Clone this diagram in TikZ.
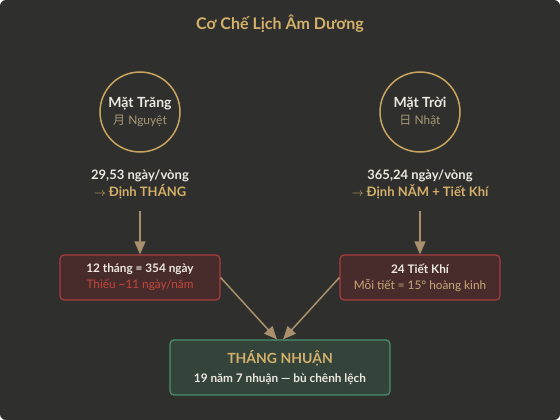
\documentclass[tikz,border=0pt]{standalone}
\usepackage{fontspec}
\setmainfont{Lato}
\newfontfamily\cjk{Noto Sans CJK SC}
\usetikzlibrary{arrows.meta}
\definecolor{bg}{HTML}{2F2F2D}
\definecolor{gold}{HTML}{D4B06A}
\definecolor{ring}{HTML}{C8A45E}
\definecolor{txt}{HTML}{ECE8E0}
\definecolor{muted}{HTML}{A89878}
\definecolor{tan}{HTML}{A8906C}
\definecolor{redfill}{HTML}{482C2C}
\definecolor{redline}{HTML}{A83C3C}
\definecolor{redtxt}{HTML}{C4463A}
\definecolor{sand}{HTML}{C8A878}
\definecolor{greenfill}{HTML}{34443A}
\definecolor{greenline}{HTML}{4C9070}
\begin{document}
\begin{tikzpicture}[x=1pt,y=-1pt,
    orb/.style={circle,draw=ring,line width=1.5pt,minimum size=80pt,inner sep=0pt,align=center,
      font=\fontsize{14}{18}\selectfont},
    info/.style={align=center,font=\fontsize{13}{17}\selectfont\bfseries},
    card/.style={rounded corners=4pt,line width=1.2pt,minimum width=160pt,minimum height=45pt,
      align=center,font=\fontsize{11.8}{16}\selectfont},
    arr/.style={draw=tan,line width=1.5pt,-{Triangle[width=11pt,length=13pt]}}]
    \fill[bg,rounded corners=6pt] (0,0) rectangle (560,420);
    \useasboundingbox (0,0) rectangle (560,420);
    \node[text=gold,font=\fontsize{16}{18}\selectfont\bfseries] (title) at (280,24) {Cơ Chế Lịch Âm Dương};
    % two bodies
    \node[orb] (moon) at (140,112) {\textcolor{txt}{\bfseries Mặt Trăng}\\[-1pt]
      \textcolor{muted}{\fontsize{12}{13}\selectfont{\cjk 月} Nguyệt}};
    \node[orb] (sun) at (420,112) {\textcolor{txt}{\bfseries Mặt Trời}\\[-1pt]
      \textcolor{muted}{\fontsize{12}{13}\selectfont{\cjk 日} Nhật}};
    \node[info] (moonInfo) at (140,184) {\textcolor{txt}{29,53 ngày/vòng}\\
      \textcolor{gold}{$\rightarrow$ Định THÁNG}};
    \node[info] (sunInfo) at (420,184) {\textcolor{txt}{365,24 ngày/vòng}\\
      \textcolor{gold}{$\rightarrow$ Định NĂM + Tiết Khí}};
    % results
    \node[card,draw=redline,fill=redfill] (lunarBox) at (140,277.5) {\textcolor{txt}{\bfseries 12 tháng = 354 ngày}\\
      \textcolor{redtxt}{Thiếu \textasciitilde11 ngày/năm}};
    \node[card,draw=redline,fill=redfill] (solarBox) at (420,277.5) {\textcolor{txt}{\bfseries 24 Tiết Khí}\\
      \textcolor{sand}{Mỗi tiết = 15° hoàng kinh}};
    \node[card,draw=greenline,fill=greenfill,minimum width=220pt,minimum height=55pt,
      font=\fontsize{11.8}{19}\selectfont] (leap) at (280,367.5)
      {\textcolor{gold}{\fontsize{14}{15}\selectfont\bfseries THÁNG NHUẬN}\\
      \textcolor{txt}{\bfseries 19 năm 7 nhuận — bù chênh lệch}};
    \draw[arr] ([yshift=-9pt]moonInfo.south) -- (lunarBox.north);
    \draw[arr] ([yshift=-9pt]sunInfo.south) -- (solarBox.north);
    \draw[arr] (lunarBox.east) -- ([xshift=-3pt]leap.north);
    \draw[arr] (solarBox.west) -- ([xshift=3pt]leap.north);
\end{tikzpicture}
\end{document}
